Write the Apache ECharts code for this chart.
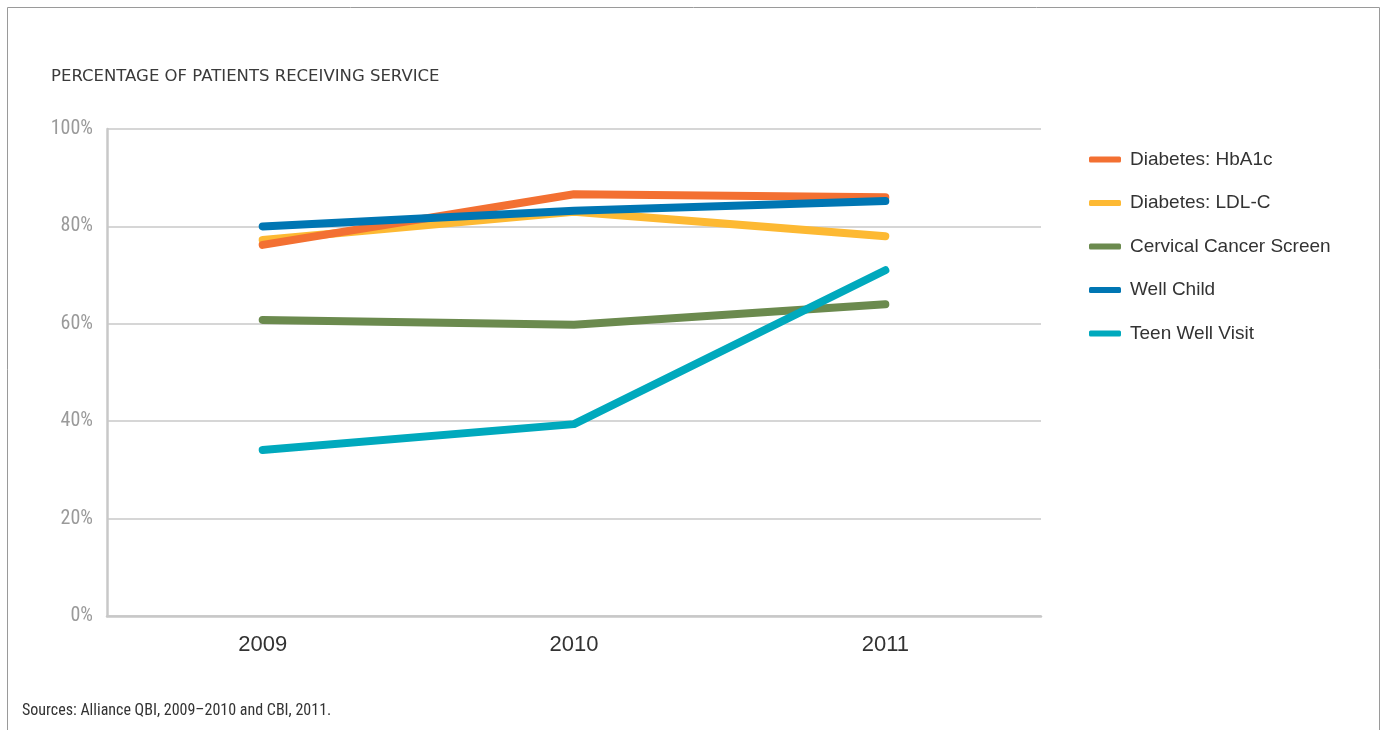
<!DOCTYPE html>
<html>
<head>
<meta charset="utf-8">
<script src="https://cdn.jsdelivr.net/npm/echarts@6/dist/echarts.min.js"></script>
<style>
  html, body { margin: 0; padding: 0; background: #fff; }
  #chart { width: 1384px; height: 730px; }
</style>
</head>
<body>
<div id="chart"></div>
<script>
// data
var years = ['2009', '2010', '2011'];
var hba1c = [76.2, 86.6, 86.0];
var ldlc = [77.2, 83.0, 78.0];
var cervical = [60.8, 59.8, 64.0];
var wellChild = [80.0, 83.2, 85.2];
var teenWell = [34.1, 39.4, 71.0];
var seriesNames = ['Diabetes: HbA1c', 'Diabetes: LDL-C', 'Cervical Cancer Screen', 'Well Child', 'Teen Well Visit'];
var yTicks = [0, 20, 40, 60, 80, 100];

var colors = ['#F37032', '#FDB933', '#6B8A4E', '#0076B3', '#00A9BD'];
var narrow = '"Liberation Sans Narrow", "Roboto Condensed", "Liberation Sans", sans-serif';
var sans = '"Liberation Sans", Roboto, sans-serif';

var chart = echarts.init(document.getElementById('chart'));

function lineSeries(name, data, color, z) {
  return {
    name: name,
    type: 'line',
    data: data,
    symbol: 'none',
    z: z,
    lineStyle: { width: 8, color: color, cap: 'round', join: 'round' },
    itemStyle: { color: color }
  };
}

var option = {
  animation: false,
  color: colors,
  title: {
    text: 'PERCENTAGE OF PATIENTS RECEIVING SERVICE',
    left: 46,
    top: 63,
    textStyle: {
      fontFamily: '"DejaVu Sans", sans-serif',
      fontSize: 16.5,
      fontWeight: 'normal',
      color: '#3a3a3a'
    }
  },
  legend: {
    orient: 'vertical',
    left: 1084,
    top: 145,
    itemWidth: 32,
    itemHeight: 6,
    itemGap: 24.5,
    icon: 'roundRect',
    data: seriesNames,
    textStyle: {
      fontFamily: sans,
      fontSize: 19,
      color: '#333',
      padding: [0, 0, 0, 4]
    }
  },
  grid: {
    left: 107,
    right: 343,
    top: 129,
    bottom: 114
  },
  xAxis: {
    type: 'category',
    data: years,
    boundaryGap: true,
    axisLine: { lineStyle: { color: '#c8c8c8', width: 2.5 } },
    axisTick: {
      alignWithLabel: true,
      inside: true,
      length: 12,
      lineStyle: { color: '#c8c8c8', width: 1.5 }
    },
    axisLabel: {
      margin: 18,
      fontFamily: sans,
      fontSize: 22,
      color: '#333'
    }
  },
  yAxis: {
    type: 'value',
    min: yTicks[0],
    max: yTicks[yTicks.length - 1],
    interval: 20,
    axisLine: { show: true, lineStyle: { color: '#c8c8c8', width: 2.5 } },
    axisTick: { show: false },
    splitLine: { lineStyle: { color: '#c8c8c8', width: 1.5 } },
    axisLabel: {
      margin: 14,
      formatter: '{value}%',
      fontFamily: narrow,
      fontSize: 20,
      color: '#9a9a9a'
    }
  },
  graphic: [
    {
      type: 'rect',
      shape: { x: 7.5, y: 7.5, width: 1372, height: 760 },
      style: { fill: 'none', stroke: '#9a9a9a', lineWidth: 1 },
      silent: true
    },
    {
      type: 'text',
      left: 22,
      top: 703,
      style: {
        text: 'Sources: Alliance QBI, 2009\u20132010 and CBI, 2011.',
        fontFamily: narrow,
        fontSize: 16,
        fill: '#333'
      }
    }
  ],
  series: [
    lineSeries(seriesNames[2], cervical, colors[2], 2),
    lineSeries(seriesNames[4], teenWell, colors[4], 3),
    lineSeries(seriesNames[1], ldlc, colors[1], 4),
    lineSeries(seriesNames[0], hba1c, colors[0], 5),
    lineSeries(seriesNames[3], wellChild, colors[3], 6)
  ]
};

chart.setOption(option);
</script>
</body>
</html>
